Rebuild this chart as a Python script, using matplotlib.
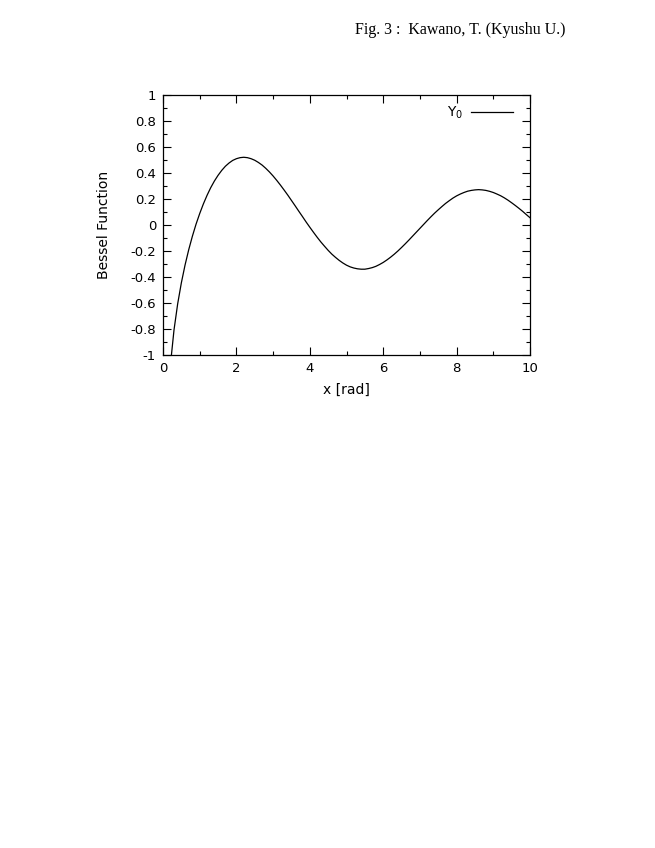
import matplotlib
matplotlib.use('Agg')
import matplotlib.pyplot as plt
from matplotlib.ticker import MultipleLocator

#values
x = [0.2, 0.3, 0.4, 0.5, 0.6, 0.7, 0.8, 0.9, 1.0, 1.1, 1.2, 1.3, 1.4, 1.5,
     1.6, 1.7, 1.8, 1.9, 2.0, 2.1, 2.2, 2.3, 2.4, 2.5, 2.6, 2.7, 2.8, 2.9,
     3.0, 3.1, 3.2, 3.3, 3.4, 3.5, 3.6, 3.7, 3.8, 3.9, 4.0, 4.1, 4.2, 4.3,
     4.4, 4.5, 4.6, 4.7, 4.8, 4.9, 5.0, 5.1, 5.2, 5.3, 5.4, 5.5, 5.6, 5.7,
     5.8, 5.9, 6.0, 6.1, 6.2, 6.3, 6.4, 6.5, 6.6, 6.7, 6.8, 6.9, 7.0, 7.1,
     7.2, 7.3, 7.4, 7.5, 7.6, 7.7, 7.8, 7.9, 8.0, 8.1, 8.2, 8.3, 8.4, 8.5,
     8.6, 8.7, 8.8, 8.9, 9.0, 9.1, 9.2, 9.3, 9.4, 9.5, 9.6, 9.7, 9.8, 9.9, 10.0]
y0 = [-1.081, -0.807, -0.606, -0.445, -0.309, -0.191, -0.087, 0.006, 0.088,
      0.162, 0.228, 0.287, 0.338, 0.382, 0.420, 0.452, 0.477, 0.497, 0.510,
      0.518, 0.521, 0.518, 0.510, 0.498, 0.481, 0.461, 0.436, 0.408, 0.377,
      0.343, 0.307, 0.269, 0.230, 0.189, 0.148, 0.106, 0.065, 0.023, -0.017,
      -0.056, -0.094, -0.130, -0.163, -0.195, -0.224, -0.249, -0.272, -0.292,
      -0.309, -0.322, -0.331, -0.337, -0.340, -0.340, -0.335, -0.328, -0.318,
      -0.304, -0.288, -0.269, -0.248, -0.225, -0.200, -0.173, -0.145, -0.116,
      -0.086, -0.056, -0.026, 0.004, 0.034, 0.063, 0.091, 0.117, 0.142, 0.166,
      0.187, 0.207, 0.224, 0.238, 0.250, 0.260, 0.266, 0.270, 0.272, 0.270,
      0.266, 0.259, 0.250, 0.238, 0.225, 0.209, 0.191, 0.171, 0.150, 0.128,
      0.105, 0.080, 0.056]

plt.rcParams['font.family'] = 'DejaVu Sans'

fig = plt.figure(figsize=(6.55, 8.48), dpi=100)
ax = fig.add_axes([163/655, 1-355/848, 367/655, 260/848])

ax.plot(x, y0, color='black', lw=0.9, label='Y$_0$')
ax.set_xlim(0, 10)
ax.set_ylim(-1, 1)
ax.xaxis.set_major_locator(MultipleLocator(2))
ax.xaxis.set_minor_locator(MultipleLocator(1))
yt = [-1, -0.8, -0.6, -0.4, -0.2, 0, 0.2, 0.4, 0.6, 0.8, 1]
ax.set_yticks(yt)
ax.set_yticklabels([('%g' % v) for v in yt])
ax.yaxis.set_minor_locator(MultipleLocator(0.1))
ax.tick_params(which='both', direction='in', top=True, right=True, labelsize=9.5, width=0.8)
ax.tick_params(which='major', length=6, pad=5)
ax.tick_params(which='minor', length=3)
for s in ax.spines.values():
    s.set_linewidth(0.9)

ax.set_xlabel('x [rad]', fontsize=10, labelpad=6)
ax.set_ylabel('Bessel Function', fontsize=10, labelpad=14)

leg = ax.legend(loc='upper right', frameon=False, markerfirst=False,
                fontsize=10, handlelength=3.0, handletextpad=0.6,
                borderaxespad=0.3, bbox_to_anchor=(0.98, 1.0))

fig.text(0.863, 0.965, 'Fig. 3 :  Kawano, T. (Kyushu U.)', ha='right', va='center',
         fontsize=11.5, family='Liberation Serif')

plt.savefig('out.png', dpi=100)
